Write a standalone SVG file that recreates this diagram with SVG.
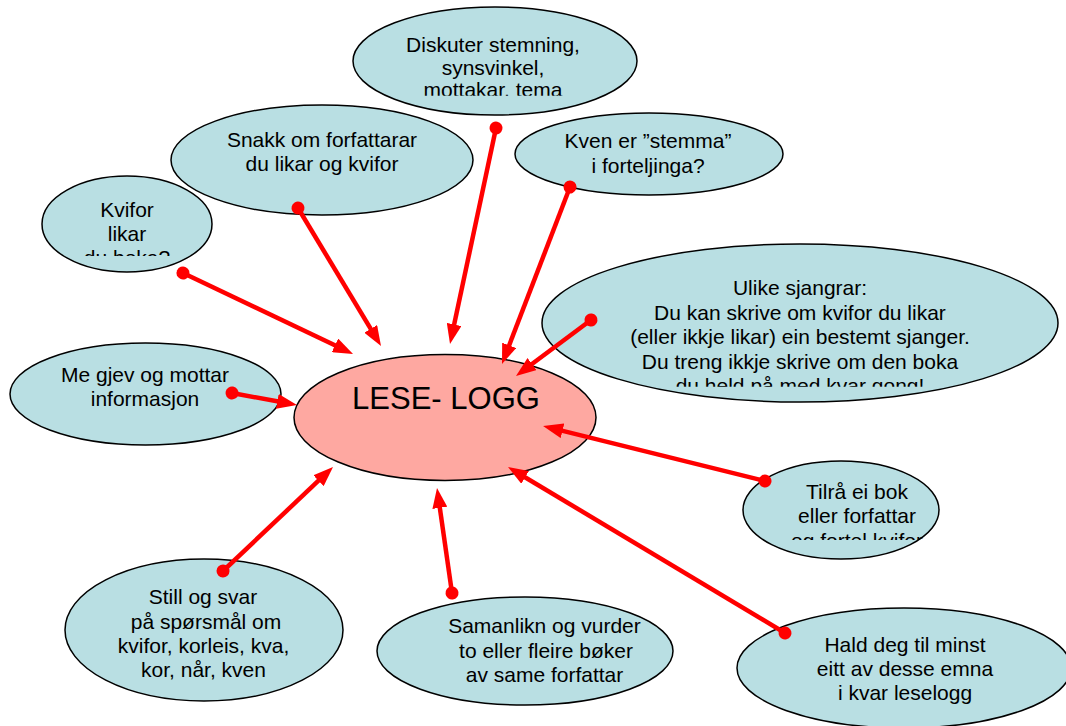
<svg xmlns="http://www.w3.org/2000/svg" width="1066" height="726" viewBox="0 0 1066 726">
<style>
.n{fill:#b9dfe3;stroke:#000;stroke-width:1.5}
.c{fill:#fea8a1;stroke:#000;stroke-width:1.5}
text{font-family:"Liberation Sans",Arial,sans-serif;font-size:21px;fill:#000;text-anchor:middle}
.big{font-size:31px}
.e{fill:none;stroke:#ff0000;stroke-width:4.5;marker-start:url(#dot);marker-end:url(#arr)}
</style>
<defs>
<marker id="arr" viewBox="0 0 20 15" refX="8" refY="7.5" markerWidth="20" markerHeight="15" markerUnits="userSpaceOnUse" orient="auto"><path d="M0,0 L20,7.5 L0,15 z" fill="#ff0000"/></marker>
<marker id="dot" viewBox="0 0 14 14" refX="7" refY="7" markerWidth="14" markerHeight="14" markerUnits="userSpaceOnUse" orient="auto"><circle cx="7" cy="7" r="6.5" fill="#ff0000"/></marker>
<clipPath id="c1"><rect x="340" y="0" width="310" height="95.7"/></clipPath>
<clipPath id="c4"><rect x="30" y="170" width="200" height="86"/></clipPath>
<clipPath id="c7"><rect x="540" y="240" width="526" height="146.7"/></clipPath>
<clipPath id="c9"><rect x="730" y="455" width="220" height="85"/></clipPath>
</defs>
<rect width="1066" height="726" fill="#fff"/>
<g id="n-diskuter"><ellipse class="n" cx="495" cy="61" rx="142" ry="54"/>
<g clip-path="url(#c1)"><text x="493" y="52">Diskuter stemning,</text><text x="493" y="74.5">synsvinkel,</text><text x="493" y="97">mottakar, tema</text></g></g>
<g id="n-snakk"><ellipse class="n" cx="322" cy="160" rx="151" ry="55"/>
<text x="322" y="147">Snakk om forfattarar</text><text x="322" y="171">du likar og kvifor</text></g>
<g id="n-kven"><ellipse class="n" cx="649" cy="154" rx="134" ry="41"/>
<text x="648" y="148">Kven er ”stemma”</text><text x="648" y="172.5">i forteljinga?</text></g>
<g id="n-kvifor"><ellipse class="n" cx="127" cy="224" rx="85" ry="48"/>
<g clip-path="url(#c4)"><text x="127" y="217">Kvifor</text><text x="127" y="241">likar</text><text x="127" y="265">du boka?</text></g></g>
<g id="n-megjev"><ellipse class="n" cx="145.5" cy="394" rx="135.5" ry="51"/>
<text x="145" y="382">Me gjev og mottar</text><text x="145" y="405.5">informasjon</text></g>
<g id="n-ulike"><ellipse class="n" cx="800" cy="323" rx="258" ry="79"/>
<g clip-path="url(#c7)"><text x="800" y="295">Ulike sjangrar:</text><text x="800" y="320">Du kan skrive om kvifor du likar</text><text x="800" y="344">(eller ikkje likar) ein bestemt sjanger.</text><text x="800" y="368.5">Du treng ikkje skrive om den boka</text><text x="800" y="393">du held på med kvar gong!</text></g></g>
<g id="n-lese"><ellipse class="c" cx="445" cy="417.5" rx="151" ry="63"/>
<text class="big" x="446" y="409">LESE- LOGG</text></g>
<g id="n-tilra"><ellipse class="n" cx="841" cy="510" rx="98" ry="49"/>
<g clip-path="url(#c9)"><text x="857" y="499">Tilrå ei bok</text><text x="857" y="523">eller forfattar</text><text x="857" y="547.5">og fortel kvifor</text></g></g>
<g id="n-still"><ellipse class="n" cx="204" cy="630" rx="139" ry="71"/>
<text x="203" y="604">Still og svar</text><text x="206" y="628.5">på spørsmål om</text><text x="203.5" y="653">kvifor, korleis, kva,</text><text x="203.5" y="677">kor, når, kven</text></g>
<g id="n-saman"><ellipse class="n" cx="525" cy="651" rx="148" ry="54"/>
<text x="544.5" y="633">Samanlikn og vurder</text><text x="546" y="657.5">to eller fleire bøker</text><text x="544.5" y="682">av same forfattar</text></g>
<g id="n-hald"><ellipse class="n" cx="904" cy="668" rx="167" ry="60"/>
<text x="905" y="652">Hald deg til minst</text><text x="905" y="676">eitt av desse emna</text><text x="905" y="700">i kvar leselogg</text></g>
<g id="connectors">
<path class="e" d="M183,273 L342.2,348.8"/>
<path class="e" d="M298,208 L374.8,335.7"/>
<path class="e" d="M496,128 L452.5,332.3"/>
<path class="e" d="M570,187 L506.3,352.8"/>
<path class="e" d="M591,320 L525.6,368.8"/>
<path class="e" d="M232,393 L285.2,402.8"/>
<path class="e" d="M765,481 L554.7,428.9"/>
<path class="e" d="M223,571 L324.3,475.2"/>
<path class="e" d="M452,593 L438.7,499.9"/>
<path class="e" d="M785,633 L518.3,473.2"/>
</g>
</svg>
